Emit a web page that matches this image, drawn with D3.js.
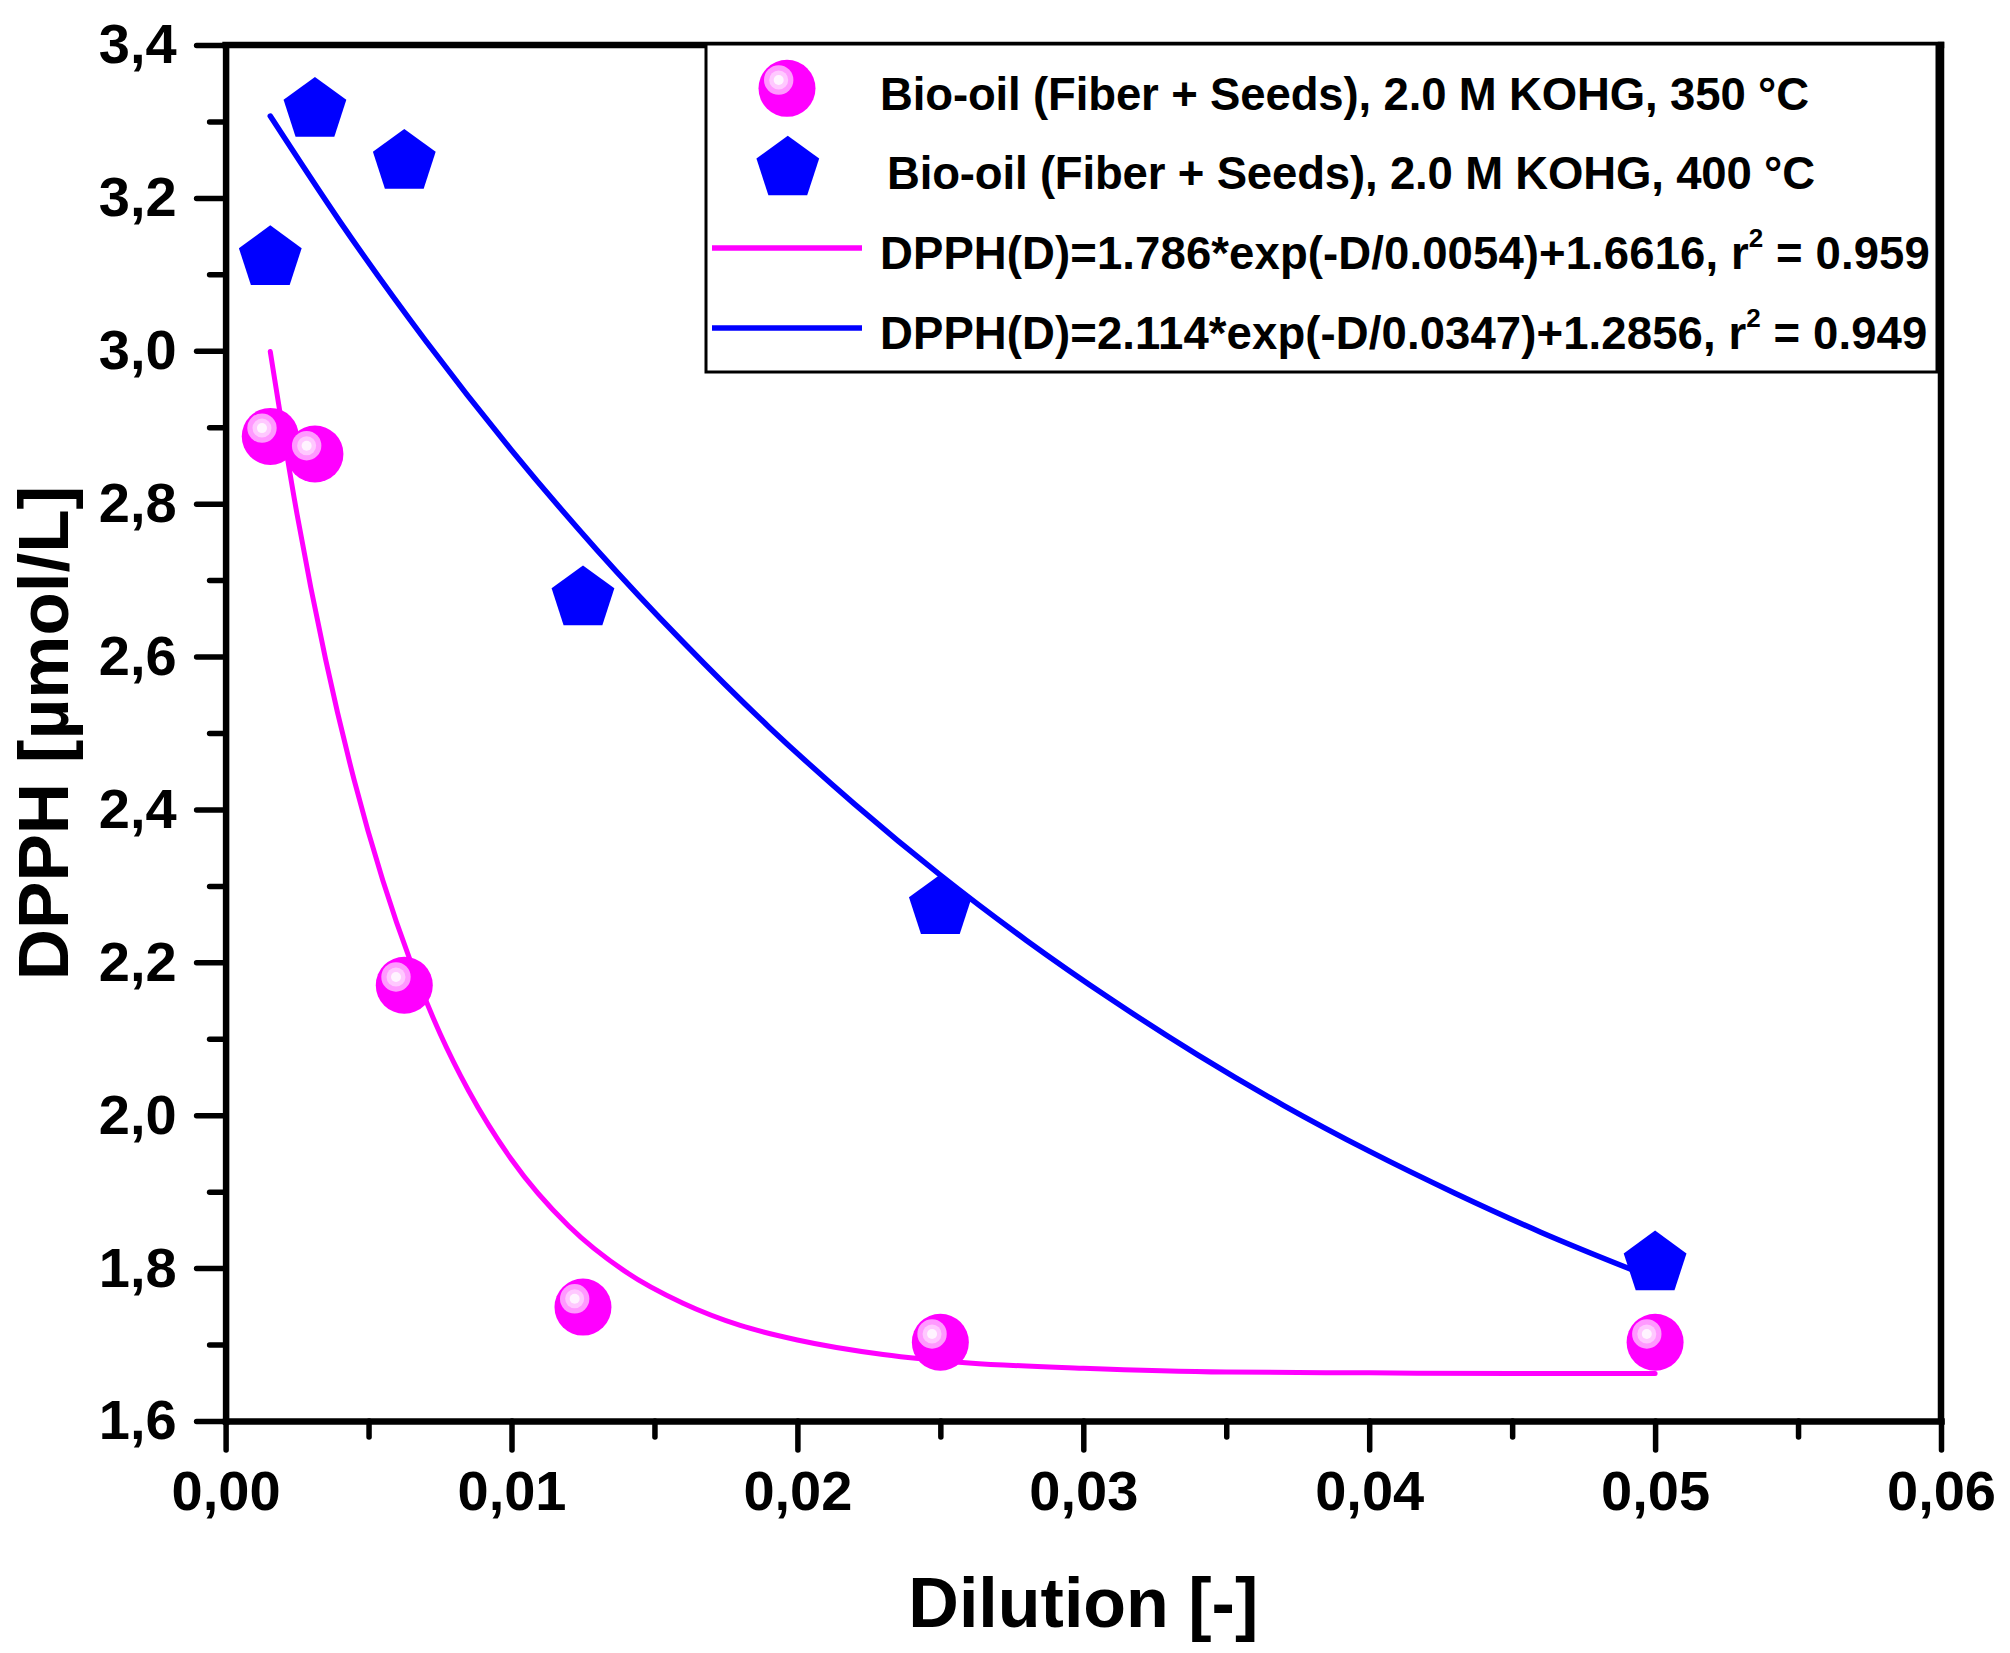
<!DOCTYPE html>
<html>
<head>
<meta charset="utf-8">
<script src="https://cdn.jsdelivr.net/npm/d3@7/dist/d3.min.js"></script>
<style>
  html, body { margin: 0; padding: 0; background: #fff; }
  svg { display: block; font-family: "Liberation Sans", Arial, sans-serif; font-weight: bold; }
</style>
</head>
<body>
<svg id="chart" width="2010" height="1653"></svg>
<script>
// ---------------- data ----------------
const dilution = [0.0015625, 0.003125, 0.00625, 0.0125, 0.025, 0.05];
const dpph350 = [2.888, 2.865, 2.170, 1.749, 1.703, 1.703];
const dpph400 = [3.125, 3.319, 3.251, 2.680, 2.276, 1.810];

const fitD350 = [0.0015625, 0.0025, 0.0035, 0.0045, 0.0055, 0.0065, 0.0075, 0.0085, 0.010, 0.012, 0.014, 0.016, 0.018, 0.020, 0.023, 0.026, 0.030, 0.035, 0.040, 0.045, 0.050];
const fit350  = [2.999, 2.786, 2.596, 2.438, 2.307, 2.198, 2.107, 2.032, 1.942, 1.855, 1.795, 1.754, 1.725, 1.706, 1.687, 1.676, 1.669, 1.664, 1.663, 1.662, 1.662];

const fitD400 = [0.0015625, 0.004, 0.007, 0.010, 0.013, 0.016, 0.019, 0.022, 0.025, 0.028, 0.031, 0.034, 0.037, 0.040, 0.043, 0.046, 0.050];
const fit400  = [3.307, 3.169, 3.013, 2.870, 2.739, 2.619, 2.508, 2.407, 2.314, 2.229, 2.151, 2.079, 2.013, 1.953, 1.898, 1.847, 1.786];

const xTicks = [0, 0.01, 0.02, 0.03, 0.04, 0.05, 0.06];
const xMinorTicks = [0.005, 0.015, 0.025, 0.035, 0.045, 0.055];
const yTicks = [1.6, 1.8, 2.0, 2.2, 2.4, 2.6, 2.8, 3.0, 3.2, 3.4];
const yMinorTicks = [1.7, 1.9, 2.1, 2.3, 2.5, 2.7, 2.9, 3.1, 3.3];

const seriesNames = ["Bio-oil (Fiber + Seeds), 2.0 M KOHG, 350 \u00B0C", "Bio-oil (Fiber + Seeds), 2.0 M KOHG, 400 \u00B0C"];
const fitNames = [
  ["DPPH(D)=1.786*exp(-D/0.0054)+1.6616, r", "2", " = 0.959"],
  ["DPPH(D)=2.114*exp(-D/0.0347)+1.2856, r", "2", " = 0.949"]
];
const xTitle = "Dilution [-]";
const yTitle = "DPPH [\u00B5mol/L]";

// ---------------- layout ----------------
const L = 225.6, R = 1941, T = 45, B = 1421;
const MAG = "#FF00FF", BLU = "#0000FF";

const svg = d3.select("#chart");
const x = d3.scaleLinear().domain([0, 0.06]).range([L, R]);
const y = d3.scaleLinear().domain([1.6, 3.4]).range([B, T]);

const loc = d3.formatLocale({decimal: ",", thousands: ".", grouping: [3], currency: ["", ""]});
const fx = loc.format(".2f"), fy = loc.format(".1f");

// minor ticks
svg.append("g").attr("transform", `translate(0,${B})`)
  .call(d3.axisBottom(x).tickValues(xMinorTicks).tickSize(16).tickFormat("").tickSizeOuter(0))
  .call(g => g.select(".domain").remove());
svg.append("g").attr("transform", `translate(${L},0)`)
  .call(d3.axisLeft(y).tickValues(yMinorTicks).tickSize(16).tickFormat("").tickSizeOuter(0))
  .call(g => g.select(".domain").remove());

// major axes
const xAxis = svg.append("g").attr("transform", `translate(0,${B})`)
  .call(d3.axisBottom(x).tickValues(xTicks).tickSize(29).tickPadding(20).tickFormat(fx).tickSizeOuter(0));
const yAxis = svg.append("g").attr("transform", `translate(${L},0)`)
  .call(d3.axisLeft(y).tickValues(yTicks).tickSize(29).tickPadding(20).tickFormat(fy).tickSizeOuter(0));

[xAxis, yAxis].forEach(g => {
  g.selectAll("text").attr("font-size", 56).attr("font-weight", "bold")
    .attr("font-family", "Liberation Sans, Arial, sans-serif").attr("fill", "#000");
});
svg.selectAll(".tick line").attr("stroke", "#000").attr("stroke-width", 5.5).attr("stroke-linecap", "round");
svg.selectAll(".domain").attr("stroke", "#000").attr("stroke-width", 6.5).attr("stroke-linecap", "square");

// top & right frame
svg.append("line").attr("x1", L).attr("x2", R).attr("y1", T).attr("y2", T)
  .attr("stroke", "#000").attr("stroke-width", 6.5).attr("stroke-linecap", "square");
svg.append("line").attr("x1", R).attr("x2", R).attr("y1", T).attr("y2", B)
  .attr("stroke", "#000").attr("stroke-width", 6.5).attr("stroke-linecap", "square");

// axis titles
svg.append("text").attr("x", (L + R) / 2).attr("y", 1627).attr("text-anchor", "middle")
  .attr("font-size", 70).attr("fill", "#000").text(xTitle);
svg.append("text").attr("transform", `translate(68,${(T + B) / 2}) rotate(-90)`).attr("text-anchor", "middle")
  .attr("font-size", 71).attr("fill", "#000").text(yTitle);

// fit curves
const line = d3.line().curve(d3.curveMonotoneX);
svg.append("path").attr("d", line(fitD400.map((d, i) => [x(d), y(fit400[i])])))
  .attr("fill", "none").attr("stroke", BLU).attr("stroke-width", 5.5).attr("stroke-linecap", "round");
svg.append("path").attr("d", line(fitD350.map((d, i) => [x(d), y(fit350[i])])))
  .attr("fill", "none").attr("stroke", MAG).attr("stroke-width", 5).attr("stroke-linecap", "round");

// marker helpers
const PR = 33;
function pentagonPath() {
  const pts = d3.range(5).map(k => {
    const a = (-90 + k * 72) * Math.PI / 180;
    return [PR * Math.cos(a), PR * Math.sin(a) + 0.0955 * PR];
  });
  return d3.line()(pts) + "Z";
}
function drawPentagon(g, cx, cy) {
  g.append("path").attr("d", pentagonPath()).attr("transform", `translate(${cx},${cy})`).attr("fill", BLU);
}
function drawSphere(g, cx, cy) {
  const s = g.append("g").attr("transform", `translate(${cx},${cy})`);
  s.append("circle").attr("r", 28.5).attr("fill", MAG);
  s.append("circle").attr("cx", -8.3).attr("cy", -8.3).attr("r", 14.7).attr("fill", "#FF99FF");
  s.append("circle").attr("cx", -8.3).attr("cy", -8.3).attr("r", 9.5).attr("fill", "#FFC8FF");
  s.append("circle").attr("cx", -8.3).attr("cy", -8.3).attr("r", 5).attr("fill", "#FFF4FF");
}

const gPent = svg.append("g");
dilution.forEach((d, i) => drawPentagon(gPent, x(d), y(dpph400[i])));
const gSph = svg.append("g");
dilution.forEach((d, i) => drawSphere(gSph, x(d), y(dpph350[i])));

// legend
const lg = svg.append("g");
lg.append("rect").attr("x", 706).attr("y", 44).attr("width", 1231).attr("height", 328)
  .attr("fill", "#fff").attr("stroke", "#000").attr("stroke-width", 3);
drawSphere(lg, 787, 88.3);
drawPentagon(lg, 787.8, 165.5);
lg.append("line").attr("x1", 712).attr("x2", 862).attr("y1", 248).attr("y2", 248).attr("stroke", MAG).attr("stroke-width", 5.5);
lg.append("line").attr("x1", 712).attr("x2", 862).attr("y1", 328).attr("y2", 328).attr("stroke", BLU).attr("stroke-width", 5.5);

const FS = 45.5;
lg.append("text").attr("x", 880).attr("y", 110).attr("font-size", FS).attr("fill", "#000")
  .attr("textLength", 929).attr("lengthAdjust", "spacing").text(seriesNames[0]);
lg.append("text").attr("x", 887).attr("y", 189).attr("font-size", FS).attr("fill", "#000")
  .attr("textLength", 928).attr("lengthAdjust", "spacing").text(seriesNames[1]);
[269, 349].forEach((yy, i) => {
  const t = lg.append("text").attr("x", 880).attr("y", yy).attr("font-size", FS).attr("fill", "#000")
    .attr("letter-spacing", 0.1);
  t.append("tspan").text(fitNames[i][0]);
  t.append("tspan").attr("dy", -22).attr("font-size", 26).text(fitNames[i][1]);
  t.append("tspan").attr("dy", 22).text(fitNames[i][2]);
});
</script>
</body>
</html>
